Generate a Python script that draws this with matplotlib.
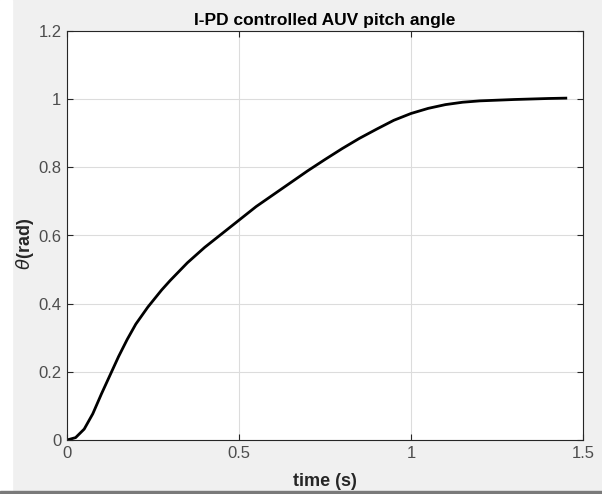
#pitch angle step response of the I-PD controlled AUV
import matplotlib
matplotlib.use('Agg')
import matplotlib.pyplot as plt
from matplotlib.patches import Rectangle

#values
time_s = [0, 0.025, 0.05, 0.075, 0.1, 0.125, 0.15, 0.175, 0.2, 0.235, 0.275, 0.3,
          0.35, 0.4, 0.45, 0.5, 0.55, 0.6, 0.65, 0.7, 0.75, 0.8, 0.85, 0.9, 0.95,
          1.0, 1.05, 1.1, 1.15, 1.2, 1.3, 1.4, 1.45]
theta_rad = [0, 0.007, 0.032, 0.077, 0.135, 0.19, 0.245, 0.295, 0.34, 0.39, 0.44, 0.468,
             0.52, 0.565, 0.605, 0.645, 0.685, 0.72, 0.755, 0.79, 0.823, 0.855, 0.885, 0.912, 0.938,
             0.958, 0.973, 0.984, 0.991, 0.995, 0.999, 1.002, 1.003]
x_ticks = [0, 0.5, 1, 1.5]
x_labels = ['0', '0.5', '1', '1.5']
y_ticks = [0, 0.2, 0.4, 0.6, 0.8, 1, 1.2]
y_labels = ['0', '0.2', '0.4', '0.6', '0.8', '1', '1.2']

plt.rcParams['font.family'] = ['Liberation Sans', 'DejaVu Sans']

W, H = 602, 494
fig = plt.figure(figsize=(W / 100, H / 100), dpi=100, facecolor='#f0f0f0')

#white strip on the left and the window edge at the bottom
fig.patches.append(Rectangle((0, 0), 12 / W, 1, transform=fig.transFigure,
                             color='white', zorder=0))
fig.patches.append(Rectangle((0, 0), 1, 3 / H, transform=fig.transFigure,
                             color='#7a7a7a', zorder=0))

ax = fig.add_axes([67 / W, 54 / H, 516 / W, 409 / H])
ax.set_facecolor('white')

ax.plot(time_s, theta_rad, color='black', lw=2)

ax.set_xlim(0, 1.5)
ax.set_ylim(0, 1.2)
ax.set_xticks(x_ticks)
ax.set_xticklabels(x_labels)
ax.set_yticks(y_ticks)
ax.set_yticklabels(y_labels)
ax.grid(True, color='#dcdcdc', lw=0.8)
ax.set_axisbelow(True)

ax.tick_params(direction='in', length=4, width=0.8, colors='#262626',
               labelcolor='#4d4d4d', labelsize=12, top=True, right=True, pad=4)
for s in ax.spines.values():
    s.set_color('#262626')
    s.set_linewidth(0.8)

ax.set_title('I-PD controlled AUV pitch angle', fontsize=12.5, fontweight='bold',
             color='black', pad=4)
ax.set_xlabel('time (s)', fontsize=13, fontweight='bold', color='#262626', labelpad=9)
ax.set_ylabel(r'$\theta$(rad)', fontsize=13, fontweight='bold', color='#262626')
ax.yaxis.set_label_coords(-0.06, 0.48)

fig.savefig('out.png', dpi=100, facecolor=fig.get_facecolor())
